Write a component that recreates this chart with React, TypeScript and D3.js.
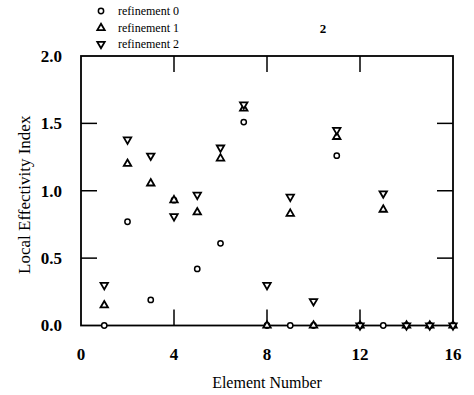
import { useEffect, useRef } from 'react';
import * as d3 from 'd3';

const elements = [1, 2, 3, 4, 5, 6, 7, 8, 9, 10, 11, 12, 13, 14, 15, 16];
const refinement0 = [0, 0.77, 0.19, 0.93, 0.42, 0.61, 1.51, 0, 0, 0, 1.26, 0, 0, 0, 0, 0];
const refinement1 = [0.15, 1.2, 1.055, 0.93, 0.84, 1.24, 1.61, 0, 0.83, 0, 1.4, 0, 0.86, 0, 0, 0];
const refinement2 = [0.3, 1.38, 1.26, 0.81, 0.97, 1.32, 1.64, 0.3, 0.955, 0.18, 1.45, 0, 0.98, 0, 0, 0];
const xTicks = [0, 4, 8, 12, 16];
const yTicks = [0, 0.5, 1.0, 1.5, 2.0];
const legendLabels = ['refinement 0', 'refinement 1', 'refinement 2'];

const W = 474;
const H = 395;
const FONT = '"Liberation Serif", "Times New Roman", serif';

export default function App() {
  const svgRef = useRef<SVGSVGElement>(null);

  useEffect(() => {
    if (!svgRef.current) return;
    const svg = d3.select(svgRef.current);
    svg.selectAll('*').remove();

    const left = 81, right = 453, top = 56, bottom = 325.5;
    const x = d3.scaleLinear().domain([0, 16]).range([left, right]);
    const y = d3.scaleLinear().domain([0, 2]).range([bottom, top]);

    svg.append('rect').attr('width', W).attr('height', H).attr('fill', '#fff');

    // frame
    svg.append('rect')
      .attr('x', left).attr('y', top)
      .attr('width', right - left).attr('height', bottom - top)
      .attr('fill', 'none').attr('stroke', '#000').attr('stroke-width', 1.8);

    const tickLen = 16;
    // inner ticks on all four sides
    xTicks.slice(1, -1).forEach(t => {
      svg.append('line').attr('x1', x(t)).attr('x2', x(t))
        .attr('y1', bottom).attr('y2', bottom - tickLen)
        .attr('stroke', '#000').attr('stroke-width', 1.5);
      svg.append('line').attr('x1', x(t)).attr('x2', x(t))
        .attr('y1', top).attr('y2', top + tickLen)
        .attr('stroke', '#000').attr('stroke-width', 1.5);
    });
    yTicks.slice(1, -1).forEach(t => {
      svg.append('line').attr('x1', left).attr('x2', left + tickLen)
        .attr('y1', y(t)).attr('y2', y(t))
        .attr('stroke', '#000').attr('stroke-width', 1.5);
      svg.append('line').attr('x1', right).attr('x2', right - tickLen)
        .attr('y1', y(t)).attr('y2', y(t))
        .attr('stroke', '#000').attr('stroke-width', 1.5);
    });

    // tick labels
    xTicks.forEach(t => {
      svg.append('text')
        .attr('x', x(t)).attr('y', 360)
        .attr('text-anchor', 'middle')
        .attr('font-family', FONT).attr('font-size', 17).attr('font-weight', 'bold')
        .text(String(t));
    });
    yTicks.forEach(t => {
      svg.append('text')
        .attr('x', 62).attr('y', y(t))
        .attr('dy', '0.35em')
        .attr('text-anchor', 'end')
        .attr('font-family', FONT).attr('font-size', 17).attr('font-weight', 'bold')
        .text(t.toFixed(1));
    });

    // axis titles
    svg.append('text')
      .attr('x', 267).attr('y', 388)
      .attr('text-anchor', 'middle')
      .attr('font-family', FONT).attr('font-size', 16)
      .text('Element Number');
    svg.append('text')
      .attr('transform', `translate(30,${(top + bottom) / 2 + 4}) rotate(-90)`)
      .attr('text-anchor', 'middle')
      .attr('font-family', FONT).attr('font-size', 17)
      .text('Local Effectivity Index');

    // markers
    const circle = d3.symbol().type(d3.symbolCircle).size(22);
    const tri = d3.symbol().type(d3.symbolTriangle).size(24);
    const drawMarker = (g: d3.Selection<any, any, any, any>, kind: number, cx: number, cy: number) => {
      if (kind === 0) {
        g.append('path').attr('d', circle()).attr('transform', `translate(${cx},${cy})`)
          .attr('fill', '#fff').attr('stroke', '#000').attr('stroke-width', 1.5);
      } else {
        const rot = kind === 2 ? 180 : 0;
        g.append('path').attr('d', tri()).attr('transform', `translate(${cx},${cy}) rotate(${rot})`)
          .attr('fill', '#fff').attr('stroke', '#000').attr('stroke-width', 1.8);
      }
    };

    const series = [refinement0, refinement1, refinement2];
    const pts = svg.append('g');
    series.forEach((vals, k) => {
      vals.forEach((v, i) => drawMarker(pts, k, x(elements[i]), y(v)));
    });

    // legend
    const lg = svg.append('g');
    const rows = [11, 28, 44];
    legendLabels.forEach((lab, k) => {
      drawMarker(lg, k, 101, rows[k]);
      lg.append('text')
        .attr('x', 118).attr('y', rows[k])
        .attr('dy', '0.35em')
        .attr('font-family', FONT).attr('font-size', 12)
        .text(lab);
    });

    svg.append('text')
      .attr('x', 323).attr('y', 28)
      .attr('dy', '0.35em')
      .attr('text-anchor', 'middle')
      .attr('font-family', FONT).attr('font-size', 13).attr('font-weight', 'bold')
      .text('2');
  }, []);

  return <svg ref={svgRef} width={W} height={H} style={{ position: 'absolute', left: 0, top: 0 }} />;
}
